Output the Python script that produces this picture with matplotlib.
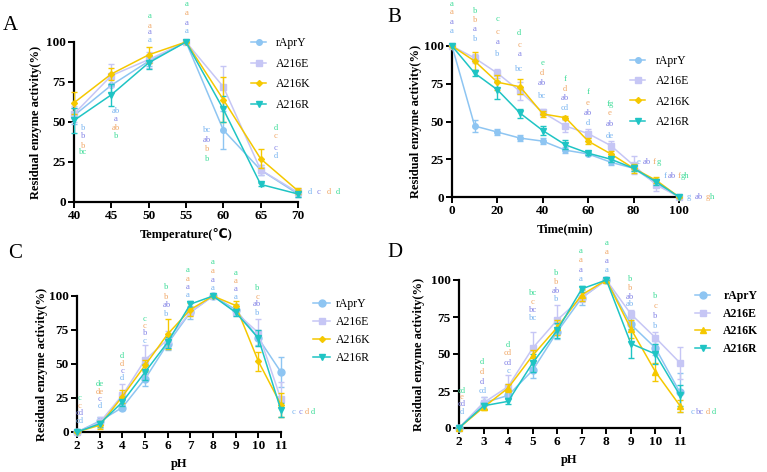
import numpy as np
import matplotlib.pyplot as plt
from matplotlib.lines import Line2D

plt.rcParams['font.family'] = ['Liberation Serif', 'DejaVu Sans']

names = ['rAprY', 'A216E', 'A216K', 'A216R']
line_colors = ['#8ec5f2', '#c6c6f5', '#f5c800', '#1fc4c4']
letter_colors = ['#78b4f0', '#8383e6', '#f0a868', '#3ddc98']

# Panel A: temperature
temp = [40, 45, 50, 55, 60, 65, 70]
temp_vals = [
    [54, 73, 88, 100, 45, 20, 5],
    [55, 79, 89, 100, 72, 20, 6],
    [62, 80, 92, 100, 64, 27, 7],
    [51, 67, 87, 100, 58, 11, 5],
]
temp_err = [
    [5, 5, 3, 0, 12, 3, 2],
    [5, 7, 5, 0, 13, 3, 3],
    [7, 4, 5, 0, 14, 6, 2],
    [8, 7, 4, 0, 8, 1, 2],
]
temp_letters = {
    40: (41.2, [46, 41, 35, 31], ['b', 'b', 'b', 'bc']),
    45: (45.6, [57, 52, 46, 41], ['ab', 'a', 'ab', 'b']),
    50: (50.2, [101, 106, 110, 116], ['a', 'a', 'a', 'a']),
    55: (55.1, [107, 112, 118, 124], ['a', 'a', 'a', 'a']),
    60: (57.8, [45, 39, 33, 27], ['bc', 'ab', 'b', 'b']),
    65: (67.0, [29, 34, 41, 46], ['d', 'c', 'c', 'd']),
}
temp_tail = ([71.6, 72.8, 74.1, 75.3], 6, ['d', 'c', 'd', 'd'])

# Panel B: time
time = [0, 10, 20, 30, 40, 50, 60, 70, 80, 90, 100]
time_vals = [
    [100, 47, 43, 39, 37, 31, 28.5, 23, 19, 9, 0],
    [100, 92, 82, 70, 56, 47, 42, 34, 21, 8, 0],
    [100, 90, 76, 73, 55, 52.5, 37, 28.5, 19, 11, 0],
    [100, 82, 71, 55.5, 44, 34.5, 29, 25, 19, 10, 0],
]
time_err = [
    [0, 4, 2, 2, 2, 2, 1, 2, 2, 2, 0],
    [0, 3, 3, 6, 2, 4, 3, 3, 6, 4, 0],
    [0, 6, 5, 5, 2, 1, 2, 2, 3, 2, 0],
    [0, 2, 6, 3, 3, 3, 1, 2, 2, 2, 0],
]
time_letters = {
    0: (0.0, [110, 116, 122.5, 128], ['a', 'a', 'a', 'a']),
    10: (10.1, [104.6, 111, 117, 123], ['b', 'a', 'b', 'b']),
    20: (20.0, [95, 102.5, 109, 118], ['b', 'a', 'c', 'c']),
    30: (29.6, [85, 94.5, 100.7, 108.6], ['bc', 'a', 'c', 'd']),
    40: (39.8, [67, 75.5, 82, 89], ['bc', 'ab', 'd', 'e']),
    50: (49.8, [59, 65.5, 71.5, 78], ['cd', 'ab', 'd', 'f']),
    60: (59.9, [49, 55.8, 62.4, 69.6], ['d', 'ab', 'e', 'f']),
    70: (69.6, [40.4, 48.3, 55.6, 61.5], ['de', 'ab', 'e', 'fg']),
}
time_tails = [
    ([82.4, 85.9, 89.0, 91.2], 23, ['e', 'ab', 'f', 'g']),
    ([93.8, 96.9, 100.0, 102.6], 14, ['f', 'ab', 'f', 'gh']),
    ([104.4, 108.8, 112.7, 114.6], 0, ['g', 'ab', 'g', 'h']),
]

# Panel C and D: pH
ph = [2, 3, 4, 5, 6, 7, 8, 9, 10, 11]
phc_vals = [
    [0, 8, 18, 39, 65, 88, 100, 90, 69, 44],
    [0, 7, 27, 53, 68, 88, 100, 88, 73, 24],
    [0, 5, 26, 49, 72, 90, 100, 93, 52, 20],
    [0, 6, 22, 44, 66, 94, 100, 88, 69, 16],
]
phc_err = [
    [0, 3, 2, 5, 5, 5, 0, 4, 5, 11],
    [0, 4, 8, 11, 6, 3, 0, 3, 10, 13],
    [0, 3, 5, 4, 11, 5, 0, 3, 7, 9],
    [0, 2, 3, 6, 4, 2, 0, 3, 6, 5],
]
phc_letters = {
    2: (2.1, [8, 14, 19.4, 25], ['cd', 'cd', 'c', 'c']),
    3: (3.0, [19, 24.5, 29.5, 35], ['d', 'c', 'de', 'de']),
    4: (4.0, [40, 44.6, 50, 56], ['d', 'c', 'd', 'd']),
    5: (5.0, [67, 73, 78, 83], ['c', 'b', 'c', 'c']),
    6: (5.95, [86.8, 93.6, 99.5, 106.6], ['b', 'ab', 'b', 'b']),
    7: (6.9, [100.8, 106.6, 112.5, 119], ['a', 'a', 'a', 'a']),
    8: (8.0, [106, 112, 118.6, 125], ['a', 'a', 'a', 'a']),
    9: (9.0, [99.5, 105, 111, 117], ['a', 'a', 'a', 'a']),
    10: (9.95, [87.5, 94, 99.5, 106], ['b', 'ab', 'c', 'b']),
}
phc_tail = ([11.55, 11.85, 12.12, 12.4], 15, ['c', 'c', 'd', 'd'])

phd_vals = [
    [0, 17, 22, 39, 65, 88, 100, 70, 54, 24],
    [0, 17, 28, 54, 73, 88, 100, 77, 61, 44],
    [0, 14, 27, 49, 68, 90, 100, 67, 38, 15],
    [0, 15, 18, 44, 66, 94, 100, 57, 50, 22],
]
phd_err = [
    [0, 4, 2, 5, 5, 5, 0, 4, 5, 13],
    [0, 4, 8, 11, 10, 3, 0, 3, 4, 11],
    [0, 2, 3, 4, 5, 4, 0, 6, 6, 4],
    [0, 2, 2, 6, 5, 2, 0, 10, 7, 7],
]
phd_letters = {
    2: (2.12, [11, 16, 21, 25], ['d', 'cd', 'e', 'cd']),
    3: (2.95, [25, 31, 38, 44.5], ['cd', 'd', 'd', 'd']),
    4: (4.0, [38.5, 44, 50.6, 56], ['c', 'cd', 'cd', 'd']),
    5: (5.0, [74, 80, 85, 91], ['bc', 'bc', 'c', 'bc']),
    6: (5.95, [87, 92.6, 98.6, 105], ['b', 'ab', 'b', 'b']),
    7: (6.97, [101, 107, 113.5, 119.6], ['a', 'a', 'a', 'a']),
    8: (8.0, [107, 113, 119, 125], ['a', 'a', 'a', 'a']),
    9: (8.96, [83.8, 88.5, 94.6, 101], ['ab', 'ab', 'b', 'b']),
    10: (10.0, [69, 75.7, 82.4, 89], ['b', 'b', 'c', 'b']),
}
phd_tail = ([11.5, 11.8, 12.15, 12.37], 11, ['c', 'bc', 'd', 'd'])

W, H = 767, 472
fig = plt.figure(figsize=(W / 100, H / 100), dpi=100)


def make_axes(left, right, top, bottom):
    return fig.add_axes([left / W, 1 - bottom / H, (right - left) / W, (bottom - top) / H])


def draw_panel(ax, x, vals, errs, markers, msizes, xlim, xticks, xlabel,
               letters, tails, leg, legend_bold=False, ylab_x=-0.15):
    for i in range(4):
        ax.errorbar(x, vals[i], yerr=errs[i], color=line_colors[i], marker=markers[i],
                    markersize=msizes[i], lw=1.1, elinewidth=1.0, capsize=2.5,
                    capthick=1.0, clip_on=False, zorder=3 + i * 0.1)
    ax.set_xlim(*xlim)
    ax.set_ylim(0, 100)
    ax.set_xticks(xticks)
    ax.set_yticks([0, 25, 50, 75, 100])
    for s in ['top', 'right']:
        ax.spines[s].set_visible(False)
    for s in ['left', 'bottom']:
        ax.spines[s].set_linewidth(1.6)
    ax.tick_params(width=1.4, length=4, labelsize=9.5, pad=2)
    for lab in ax.get_xticklabels() + ax.get_yticklabels():
        lab.set_fontweight('bold')
    ax.set_xlabel(xlabel, fontsize=9, fontweight='bold', labelpad=4)
    ax.set_ylabel('Residual enzyme activity(%)', fontsize=9, fontweight='bold')
    ax.yaxis.set_label_coords(ylab_x, 0.5)
    # significance letters, one colour per variant
    for key, (xp, ys, labs) in letters.items():
        for i in range(4):
            ax.text(xp, ys[i], labs[i], color=letter_colors[i], fontsize=6.2,
                    ha='center', va='center', clip_on=False)
    for xs, yv, labs in tails:
        for i in range(4):
            ax.text(xs[i], yv, labs[i], color=letter_colors[i], fontsize=6.2,
                    ha='center', va='center', clip_on=False)
    handles = [Line2D([], [], color=line_colors[i], marker=markers[i],
                      markersize=msizes[i], lw=1.1) for i in range(4)]
    left, top, spacing, hlen, hpad = leg
    ax.legend(handles, names, loc='upper left', bbox_to_anchor=(left / W, 1 - top / H),
              bbox_transform=fig.transFigure, frameon=False, borderpad=0,
              borderaxespad=0, handlelength=hlen, handletextpad=hpad,
              labelspacing=spacing,
              prop={'weight': 'bold' if legend_bold else 'normal', 'size': 8.5})


axA = make_axes(74, 298, 42, 202)
draw_panel(axA, temp, temp_vals, temp_err, ['o', 's', 'D', 'v'], [4, 4, 3, 4],
           (40, 70), temp, 'Temperature(\u2103)', temp_letters, [temp_tail],
           (251, 37, 0.74, 1.3, 0.8), ylab_x=-0.143)

axB = make_axes(452, 679, 46, 197)
draw_panel(axB, time, time_vals, time_err, ['o', 's', 'D', 'v'], [4, 4, 3, 4],
           (0, 100), [0, 20, 40, 60, 80, 100], 'Time(min)', time_letters, time_tails,
           (630, 55, 0.7, 1.3, 0.9), ylab_x=-0.132)

axC = make_axes(77, 281, 296, 432)
draw_panel(axC, ph, phc_vals, phc_err, ['o', 's', 'D', 'v'], [5, 5, 3, 5],
           (2, 11), ph, 'pH', phc_letters, [phc_tail],
           (313, 298, 0.5, 1.45, 0.45), ylab_x=-0.142)

axD = make_axes(459, 680, 280, 428)
draw_panel(axD, ph, phd_vals, phd_err, ['o', 's', '^', 'v'], [5, 5, 5, 5],
           (2, 11), ph, 'pH', phd_letters, [phd_tail],
           (695, 290, 0.48, 1.3, 1.1), legend_bold=True, ylab_x=-0.154)

for lab, (px, py) in zip('ABCD', [(3, 30), (387, 22), (8, 258), (387, 257)]):
    fig.text(px / W, 1 - py / H, lab, fontsize=15, ha='left', va='baseline')

fig.savefig('out.png', dpi=100)
